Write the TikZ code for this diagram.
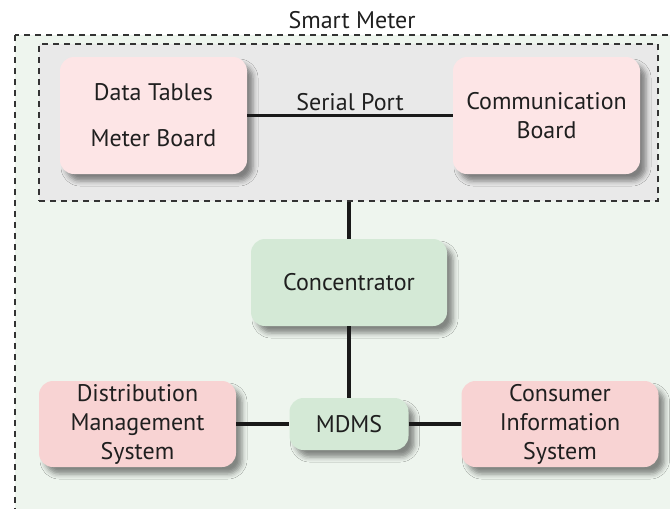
\documentclass[tikz,border=0pt]{standalone}
\usepackage{fontspec}
\setmainfont{PT Sans}
\usetikzlibrary{positioning,shadows.blur}
\definecolor{mypink}{RGB}{253,229,230}
\definecolor{myrose}{RGB}{248,211,211}
\definecolor{mygreen}{RGB}{212,233,214}
\definecolor{mybg}{RGB}{238,245,238}
\definecolor{mygray}{RGB}{233,233,233}

\begin{document}
\begin{tikzpicture}[x=0.5pt,y=-0.5pt,
  every node/.style={align=center,font=\fontsize{12}{14.5}\selectfont,text=black!88},
  box/.style={rounded corners=7pt,inner sep=0pt,
    blur shadow={shadow xshift=3pt,shadow yshift=-3.5pt,shadow blur radius=2.5pt,shadow opacity=45}},
  pknode/.style={box,fill=mypink,minimum width=93.5pt,minimum height=58.5pt},
  rsnode/.style={box,fill=myrose,minimum width=98.5pt,minimum height=43pt},
  gnnode/.style={box,fill=mygreen},
  frame/.style={draw=black!80,line width=0.6pt,dash pattern=on 3pt off 2.5pt},
  link/.style={line width=1.6pt,black!90}
]
\useasboundingbox (0,0) rectangle (670,509);
\clip (0,0) rectangle (670,509);

% the outer area
\draw[frame,fill=mybg] (15,35) rectangle (700,540);
\node (title) at (352,20) {Smart Meter};

% the meter
\node[frame,fill=mygray,minimum width=309.5pt,minimum height=78.5pt] (meter) at (348.5,122.5) {};
\node[pknode] (tables) at (153.5,115.5) {Data Tables\\[8.5pt]Meter Board};
\node[pknode] (comm) at (546.5,115.5) {Communication\\Board};

% the head end
\node[gnnode,minimum width=98pt,minimum height=43.5pt] (conc) at (349,282.5) {Concentrator};
\node[gnnode,minimum width=59.5pt,minimum height=26pt] (mdms) at (349,424) {MDMS};
\node[rsnode] (dms) at (137.5,424) {Distribution\\Management\\System};
\node[rsnode] (cis) at (560,424) {Consumer\\Information\\System};

% the links
\draw[link] (tables) -- node[above=-2pt] {Serial Port} (comm);
\draw[link] (conc.north |- meter.south) -- (conc);
\draw[link] (conc) -- (mdms);
\draw[link] (dms) -- (mdms);
\draw[link] (mdms) -- (cis);
\end{tikzpicture}
\end{document}
